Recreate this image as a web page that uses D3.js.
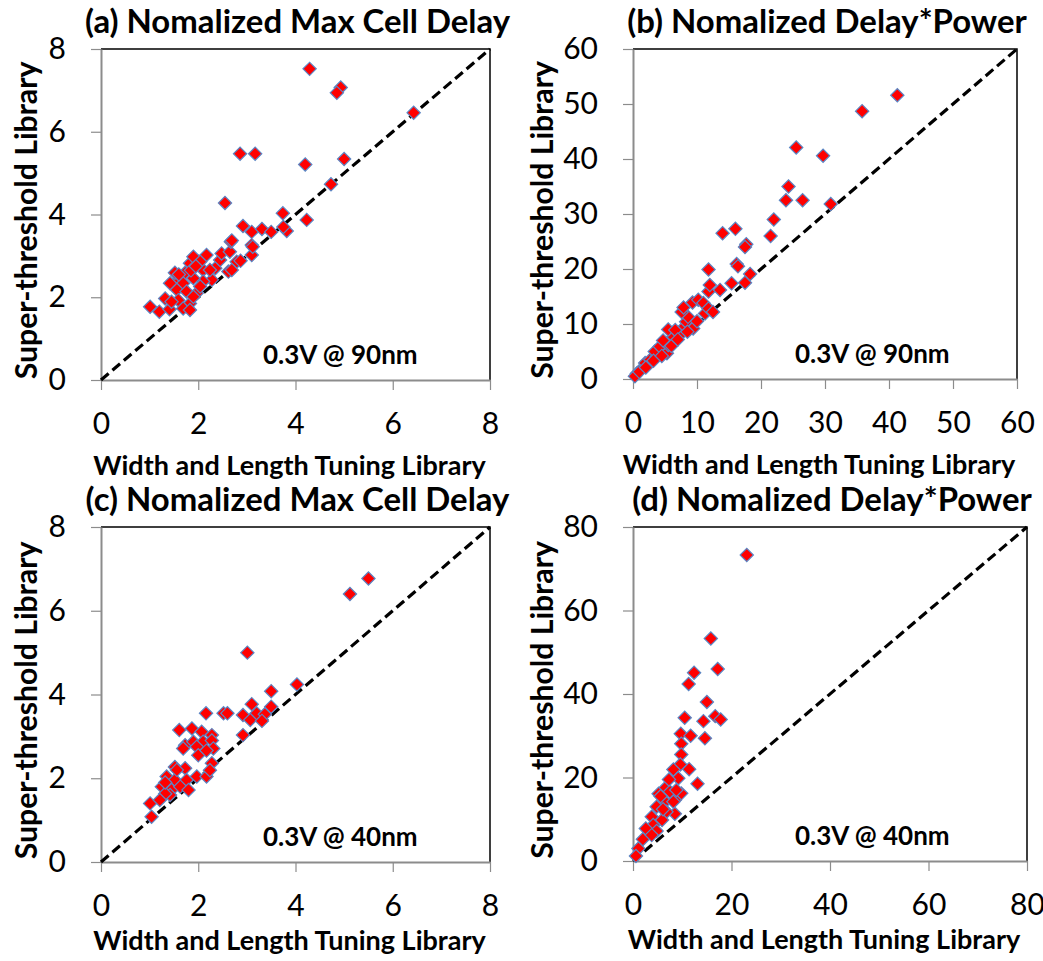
<!DOCTYPE html>
<html lang="en">
<head>
    <meta charset="UTF-8">
    <title>Super-threshold vs Width and Length Tuning Library</title>
    <script src="https://d3js.org/d3.v7.min.js"></script>
    <style>
        body { margin: 0; background: #fff; }
        svg text { font-family: Lato, "Open Sans", sans-serif; fill: #000; }
        .tick text { font-size: 30px; }
        .tick line { stroke: #8c8c8c; stroke-width: 1.2px; }
        .domain { stroke: #8c8c8c; stroke-width: 2px; }
        .title, .axis_title, .y_title, .note { font-weight: bold; }
        .note { font-size: 26px; }
    </style>
</head>
<body>
<svg width="1043" height="961"></svg>

<script>
    // (a) max cell delay, 0.3V @ 90nm
    const delay90Tuned = [1.01,1.20,1.41,1.32,1.52,1.52,1.73,1.83,2.00,2.17,1.90,2.10,2.35,2.45,2.48,2.65,2.67,3.10,3.10,3.31,
        3.50,3.82,3.10,2.79,2.62,2.28,2.10,1.90,1.69,1.56,1.76,1.97,1.59,1.45,1.83,1.69,1.90,2.04,1.42,2.24,
        1.83,2.04,4.29,4.93,4.85,6.43,2.86,3.17,4.20,5.00,4.73,3.74,4.23,2.92,3.75,2.69,3.12,2.87,2.69,2.55,
        1.60,1.85,1.95];
    const delay90Super = [1.77,1.65,1.71,1.97,2.34,2.59,2.59,2.82,2.86,3.02,2.98,2.66,2.70,2.90,3.06,3.10,3.34,3.26,3.58,3.65,
        3.58,3.60,3.02,2.86,2.62,2.42,2.38,2.46,2.34,2.18,2.14,2.10,1.93,1.89,1.85,1.73,2.01,2.26,2.34,2.66,
        1.69,2.86,7.52,7.07,6.94,6.46,5.47,5.47,5.21,5.34,4.73,4.03,3.87,3.72,3.70,3.37,3.22,2.88,2.66,4.28,
        2.55,2.65,2.75];

    // (b) delay*power, 0.3V @ 90nm
    const edp90Tuned = [0.6,1.4,1.9,2.7,3.7,3.4,5.3,4.2,5.5,4.7,6.3,7.6,5.5,6.6,8.1,9.4,8.3,8.6,7.6,7.9,
        9.3,10.2,11.0,11.25,11.8,11.8,12.0,13.6,15.4,17.5,18.3,16.2,16.4,11.8,14.0,16.0,17.7,17.5,21.5,22.0,
        24.3,23.9,26.5,30.9,25.5,29.7,35.8,41.3,0.3,1.0,2.0,3.2,4.5,6.0,7.0,8.5,10.0,12.5];
    const edp90Super = [1.0,1.9,2.9,3.5,4.1,5.0,4.7,5.9,6.2,7.0,7.7,8.3,9.0,8.9,9.6,9.2,10.4,11.3,12.2,13.0,
        13.9,14.4,13.8,11.9,12.8,15.9,17.1,16.2,17.4,17.5,19.1,20.9,20.5,19.9,26.5,27.3,24.5,24.0,26.0,29.0,
        35.0,32.5,32.5,31.8,42.1,40.6,48.7,51.6,0.5,1.3,2.1,3.3,4.2,6.0,7.2,8.6,10.5,12.2];

    // (c) max cell delay, 0.3V @ 40nm
    const delay40Tuned = [5.50,5.12,3.01,4.03,3.50,3.10,3.50,2.92,3.20,3.37,3.07,3.31,2.52,2.60,2.16,2.92,1.61,1.87,2.07,2.28,
        1.73,1.90,2.10,2.28,1.97,1.69,2.31,2.00,2.17,1.52,1.73,2.28,1.35,1.52,1.76,1.97,2.17,2.24,1.25,1.45,
        1.63,1.80,1.42,1.32,1.01,1.21,1.04,1.56,1.32];
    const delay40Super = [6.77,6.40,5.00,4.24,4.08,3.77,3.71,3.51,3.55,3.53,3.39,3.37,3.55,3.55,3.55,3.03,3.15,3.19,3.11,3.03,
        2.79,2.87,2.87,2.90,2.75,2.71,2.71,2.55,2.66,2.27,2.24,2.36,2.04,1.96,1.96,2.04,2.04,2.19,1.80,1.72,
        1.80,1.72,1.60,1.63,1.40,1.48,1.08,2.20,1.90];

    // (d) delay*power, 0.3V @ 40nm
    const edp40Tuned = [23.1,15.8,17.2,12.4,11.3,15.0,10.5,14.3,16.7,17.8,9.7,11.7,14.6,9.8,9.8,9.6,11.4,8.2,9.2,13.1,
        6.5,5.2,7.5,9.8,8.5,6.5,4.8,8.5,6.8,3.8,5.9,4.1,2.6,4.8,2.0,3.8,1.1,0.6,8.2,5.6,
        6.1,7.3,8.8];
    const edp40Super = [73.3,53.3,46.0,45.1,42.4,38.1,34.3,33.5,34.7,33.9,30.5,30.0,29.4,28.1,25.5,23.1,22.0,21.9,19.8,18.5,
        17.4,16.1,16.6,16.2,14.6,14.2,13.0,11.3,11.8,10.6,9.8,8.6,7.8,7.2,5.2,6.2,3.0,1.2,14.2,15.5,
        12.4,19.5,17.0];

    const delayTicks = [0, 2, 4, 6, 8];
    const edp90Ticks = [0, 10, 20, 30, 40, 50, 60];
    const edp40Ticks = [0, 20, 40, 60, 80];

    const titles = ["(a) Nomalized Max Cell Delay", "(b) Nomalized Delay*Power",
                    "(c) Nomalized Max Cell Delay", "(d) Nomalized Delay*Power"];
    const notes = ["0.3V @ 90nm", "0.3V @ 90nm", "0.3V @ 40nm", "0.3V @ 40nm"];
    const xTitle = "Width and Length Tuning Library";
    const yTitle = "Super-threshold Library";

    // plot boxes in page pixels, plus offsets of the axis titles
    const panels = [
        {xs: delay90Tuned, ys: delay90Super, ticks: delayTicks, left: 101, right: 490, top: 49, bottom: 380, yTitleDx: 64, xTitleDy: 95},
        {xs: edp90Tuned, ys: edp90Super, ticks: edp90Ticks, left: 633, right: 1017, top: 49, bottom: 379, yTitleDx: 80, xTitleDy: 95},
        {xs: delay40Tuned, ys: delay40Super, ticks: delayTicks, left: 101, right: 490, top: 527, bottom: 862, yTitleDx: 64, xTitleDy: 88},
        {xs: edp40Tuned, ys: edp40Super, ticks: edp40Ticks, left: 633, right: 1027, top: 527, bottom: 861, yTitleDx: 80, xTitleDy: 88}
    ];

    let svg = d3.select("svg");
    const diamond = d3.symbol().type(d3.symbolSquare).size(88);

    panels.forEach(function (p, i) {
        const max = p.ticks[p.ticks.length - 1];
        const x = d3.scaleLinear().domain([0, max]).range([p.left, p.right]);
        const y = d3.scaleLinear().domain([0, max]).range([p.bottom, p.top]);
        const g = svg.append("g");

        // top and right frame
        g.append("path")
            .attr("d", `M${p.left},${p.top}H${p.right}V${p.bottom}`)
            .attr("fill", "none")
            .attr("stroke", "#000")
            .attr("stroke-width", 1.5);

        g.append("g")
            .attr("transform", `translate(0,${p.bottom})`)
            .call(d3.axisBottom(x).tickValues(p.ticks).tickSize(10).tickSizeOuter(0).tickPadding(23));

        g.append("g")
            .attr("transform", `translate(${p.left},0)`)
            .call(d3.axisLeft(y).tickValues(p.ticks).tickSize(10).tickSizeOuter(0).tickPadding(25));

        // y = x reference line
        g.append("line")
            .attr("x1", x(0)).attr("y1", y(0))
            .attr("x2", x(max)).attr("y2", y(max))
            .attr("stroke", "#000")
            .attr("stroke-width", 3.2)
            .attr("stroke-dasharray", "10,5");

        g.append("g").selectAll("path")
            .data(p.xs.map((v, k) => [v, p.ys[k]]))
            .enter()
            .append("path")
            .attr("d", diamond)
            .attr("transform", d => `translate(${x(d[0])},${y(d[1])}) rotate(45)`)
            .attr("fill", "#ff0000")
            .attr("stroke", "#5b87c5")
            .attr("stroke-width", 1.2);

        const cx = (p.left + p.right) / 2;
        g.append("text").attr("class", "title")
            .attr("x", cx + 2).attr("y", p.top - 16)
            .attr("text-anchor", "middle")
            .text(titles[i]);

        g.append("text").attr("class", "axis_title")
            .attr("x", cx - 6).attr("y", p.bottom + p.xTitleDy)
            .attr("text-anchor", "middle")
            .text(xTitle);

        g.append("text").attr("class", "y_title")
            .attr("transform", `translate(${p.left - p.yTitleDx},${(p.top + p.bottom) / 2 + 6}) rotate(-90)`)
            .attr("text-anchor", "middle")
            .text(yTitle);

        g.append("text").attr("class", "note")
            .attr("x", p.left + 162).attr("y", p.bottom - 16)
            .text(notes[i]);
    });

    // size the bold titles to the widths they take in the original figure
    function fitFont(cls, target) {
        const sel = svg.selectAll("." + cls).style("font-size", "20px");
        const len = sel.node().getComputedTextLength();
        sel.style("font-size", (20 * target / len).toFixed(1) + "px");
    }
    fitFont("title", 425);
    fitFont("axis_title", 392);
    fitFont("y_title", 318);
</script>
</body>
</html>
